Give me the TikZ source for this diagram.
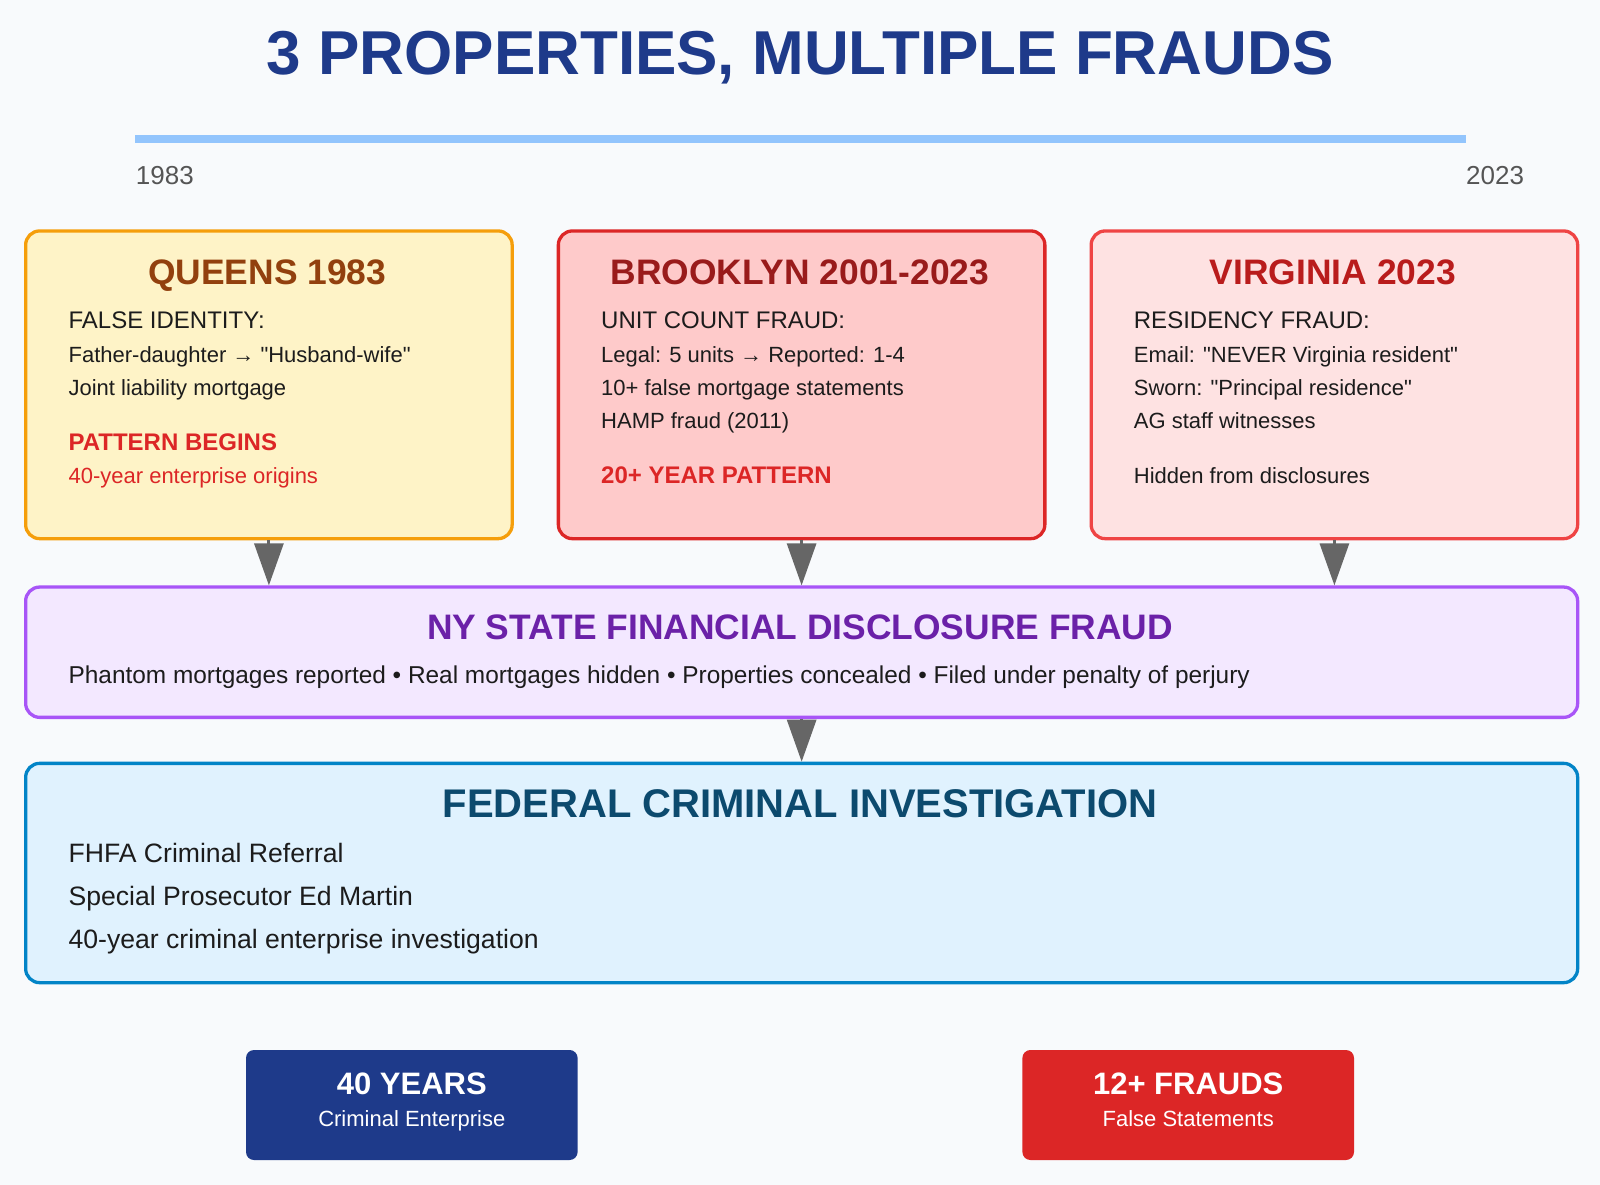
\documentclass[tikz,border=0pt]{standalone}
\usepackage{fontspec}
\setmainfont{Liberation Sans}[Ligatures=TeXOff]
\usetikzlibrary{arrows.meta}

\definecolor{bg}{HTML}{F8FAFC}
\definecolor{navy}{HTML}{1E3A8A}
\definecolor{bar}{HTML}{93C5FD}
\definecolor{yeargray}{HTML}{555555}
\definecolor{ink}{HTML}{1C1C1C}
\definecolor{alarm}{HTML}{DC2626}
\definecolor{qfill}{HTML}{FEF3C7}
\definecolor{qline}{HTML}{F59E0B}
\definecolor{qhead}{HTML}{92400E}
\definecolor{bfill}{HTML}{FECACA}
\definecolor{bline}{HTML}{DC2626}
\definecolor{bhead}{HTML}{991B1B}
\definecolor{vfill}{HTML}{FEE2E2}
\definecolor{vline}{HTML}{EF4444}
\definecolor{vhead}{HTML}{B91C1C}
\definecolor{pfill}{HTML}{F3E8FF}
\definecolor{pline}{HTML}{A855F7}
\definecolor{phead}{HTML}{6B21A8}
\definecolor{ffill}{HTML}{E0F2FE}
\definecolor{fline}{HTML}{0284C7}
\definecolor{fhead}{HTML}{0C4A6E}
\definecolor{arrowgray}{HTML}{666666}

\newcommand{\px}[1]{\fontsize{#1}{#1}\selectfont}

\begin{document}
\begin{tikzpicture}[x=1pt, y=-1pt,
  box/.style={draw, line width=3.3pt, rounded corners=14pt, anchor=north west, inner sep=0pt},
  badge/.style={rounded corners=8pt, minimum width=331.6pt, minimum height=110pt, inner sep=0pt},
  head/.style={anchor=base, inner sep=0pt, font=\bfseries\px{35.4}},
  txt/.style={anchor=base west, inner sep=0pt, text=ink, font=\px{22}},
  big/.style={anchor=base west, inner sep=0pt, text=ink, font=\px{24}},
  arr/.style={draw=arrowgray, fill=arrowgray, line width=3pt, -{Triangle[length=42pt,width=29pt]}}]

\path[use as bounding box, fill=bg] (0,0) rectangle (1600,1185);

% title and time line
\node (0)[anchor=base, inner sep=0pt, text=navy, font=\bfseries\px{62}] at (800,74.5) {3 PROPERTIES, MULTIPLE FRAUDS};
\coordinate (t0) at (135,139);
\coordinate (t1) at (1466,139);
\draw[bar, line width=8pt] (t0) -- (t1);
\node (y0)[anchor=base west, inner sep=0pt, text=yeargray, font=\px{26}] at (135.7,184.7) {1983};
\node (y1)[anchor=base west, inner sep=0pt, text=yeargray, font=\px{26}] at (1466,184.7) {2023};

% three properties
\node (1)[box, fill=qfill, draw=qline, minimum width=486.5pt, minimum height=307.7pt] at (24,229.3) {};
\node (2)[box, fill=bfill, draw=bline, minimum width=486.5pt, minimum height=307.7pt] at (556.7,229.3) {};
\node (3)[box, fill=vfill, draw=vline, minimum width=486.5pt, minimum height=307.7pt] at (1089.5,229.3) {};

\node (1h)[head, text=qhead] at (267.2,284) {QUEENS 1983};
\node (1a)[big] at (68.4,328.6) {FALSE IDENTITY:};
\node (1b)[txt] at (68.4,362.2) {Father-daughter → "Husband-wife"};
\node (1c)[txt] at (68.4,395.9) {Joint liability mortgage};
\node (1d)[big, text=alarm, font=\bfseries\px{24}] at (68.4,450) {PATTERN BEGINS};
\node (1e)[txt, text=alarm] at (68.4,483.7) {40-year enterprise origins};

\node (2h)[head, text=bhead] at (800,284) {BROOKLYN 2001-2023};
\node (2a)[big] at (601,328.6) {UNIT COUNT FRAUD:};
\node (2b)[txt] at (601,362.2) {Legal: 5 units → Reported: 1-4};
\node (2c)[txt] at (601,395.9) {10+ false mortgage statements};
\node (2d)[txt] at (601,428.6) {HAMP fraud (2011)};
\node (2e)[big, text=alarm, font=\bfseries\px{24}] at (601,483.7) {20+ YEAR PATTERN};

\node (3h)[head, text=vhead] at (1332.8,284) {VIRGINIA 2023};
\node (3a)[big] at (1133.7,328.6) {RESIDENCY FRAUD:};
\node (3b)[txt] at (1133.7,362.2) {Email: "NEVER Virginia resident"};
\node (3c)[txt] at (1133.7,395.9) {Sworn: "Principal residence"};
\node (3d)[txt] at (1133.7,428.6) {AG staff witnesses};
\node (3e)[txt] at (1133.7,483.7) {Hidden from disclosures};

% state disclosures
\node (4)[box, fill=pfill, draw=pline, minimum width=1552pt, minimum height=130.3pt] at (24,585.4) {};
\node (4h)[head, text=phead] at (800,639) {NY STATE FINANCIAL DISCLOSURE FRAUD};
\node (4a)[txt, font=\px{24.4}] at (68.4,683) {Phantom mortgages reported • Real mortgages hidden • Properties concealed • Filed under penalty of perjury};

% federal
\node (5)[box, fill=ffill, draw=fline, minimum width=1552pt, minimum height=219.3pt] at (24,761.7) {};
\node (5h)[head, text=fhead, font=\bfseries\px{40}] at (800,817) {FEDERAL CRIMINAL INVESTIGATION};
\node (5a)[txt, font=\px{26.6}] at (68.4,862) {FHFA Criminal Referral};
\node (5b)[txt, font=\px{26.6}] at (68.4,905) {Special Prosecutor Ed Martin};
\node (5c)[txt, font=\px{26.6}] at (68.4,948) {40-year criminal enterprise investigation};

\draw[arr] (1.south) -- (1.south |- 4.north);
\draw[arr] (2.south) -- (2.south |- 4.north);
\draw[arr] (3.south) -- (3.south |- 4.north);
\draw[arr] (4.south) -- (5.north);

% totals
\node (6)[badge, fill=navy] at (411.8,1105) {};
\node (6a)[anchor=base, inner sep=0pt, text=white, font=\bfseries\px{31}] at (411.8,1094) {40 YEARS};
\node (6b)[anchor=base, inner sep=0pt, text=white, font=\px{22}] at (411.8,1126.6) {Criminal Enterprise};
\node (7)[badge, fill=alarm] at (1188.2,1105) {};
\node (7a)[anchor=base, inner sep=0pt, text=white, font=\bfseries\px{31}] at (1188.2,1094) {12+ FRAUDS};
\node (7b)[anchor=base, inner sep=0pt, text=white, font=\px{22}] at (1188.2,1126.6) {False Statements};
\end{tikzpicture}
\end{document}
